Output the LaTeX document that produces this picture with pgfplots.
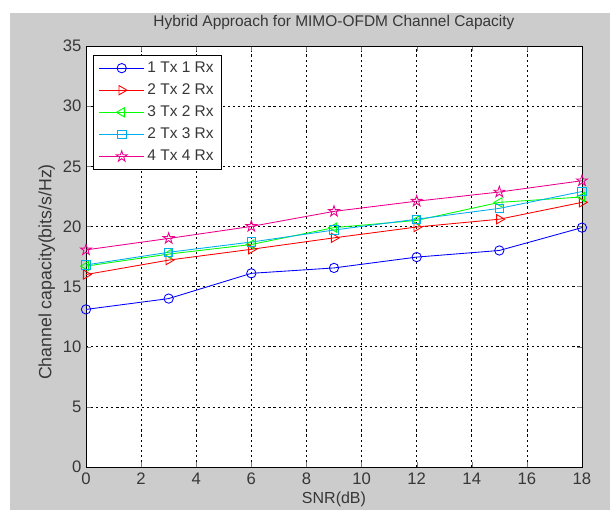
\documentclass[border=0pt]{standalone}
\usepackage{fontspec}
\setmainfont{Liberation Sans}
\usepackage{pgfplots}
\pgfplotsset{compat=1.18}
\usetikzlibrary{backgrounds}

\definecolor{figgray}{RGB}{204,204,204}
\definecolor{txt}{RGB}{55,55,55}

% MATLAB-like hollow pentagram
\pgfdeclareplotmark{pentagram}{%
  \pgfpathmoveto{\pgfpointpolar{90}{\pgfplotmarksize}}%
  \pgfpathlineto{\pgfpointpolar{126}{0.382\pgfplotmarksize}}%
  \pgfpathlineto{\pgfpointpolar{162}{\pgfplotmarksize}}%
  \pgfpathlineto{\pgfpointpolar{198}{0.382\pgfplotmarksize}}%
  \pgfpathlineto{\pgfpointpolar{234}{\pgfplotmarksize}}%
  \pgfpathlineto{\pgfpointpolar{270}{0.382\pgfplotmarksize}}%
  \pgfpathlineto{\pgfpointpolar{306}{\pgfplotmarksize}}%
  \pgfpathlineto{\pgfpointpolar{342}{0.382\pgfplotmarksize}}%
  \pgfpathlineto{\pgfpointpolar{18}{\pgfplotmarksize}}%
  \pgfpathlineto{\pgfpointpolar{54}{0.382\pgfplotmarksize}}%
  \pgfpathclose\pgfusepathqstroke}

\begin{document}
\begin{tikzpicture}
\begin{axis}[
  scale only axis,
  width=372pt, height=315.75pt,
  xmin=0, xmax=18, ymin=0, ymax=35,
  xtick={0,2,...,18}, ytick={0,5,...,35},
  tick align=inside,
  major tick length=4pt,
  axis background/.style={fill=white},
  axis line style={black, line width=0.5pt},
  grid=major,
  major grid style={black, line width=0.5pt, dash pattern=on 1.6pt off 2.2pt},
  /pgf/number format/assume math mode=true,
  tick label style={font=\fontsize{12.5}{15}\selectfont, color=txt},
  xticklabel style={yshift=-1pt},
  title={Hybrid Approach for MIMO-OFDM Channel Capacity},
  title style={font=\fontsize{11.6}{14}\selectfont, color=txt, at={(0.5,1.038)}, anchor=center},
  xlabel={SNR(dB)},
  ylabel={Channel capacity(bits/s/Hz)},
  xlabel style={font=\fontsize{12}{14}\selectfont, color=txt, at={(0.5,-0.076)}, anchor=center},
  ylabel style={font=\fontsize{13.3}{16}\selectfont, color=txt, at={(-0.079,0.463)}, anchor=center},
  legend style={at={(0.014,0.979)}, anchor=north west, draw=black, fill=white,
    font=\fontsize{11.6}{14}\selectfont, text=txt, row sep=3pt,
    inner xsep=4pt, inner ysep=3pt, line width=0.5pt},
  legend cell align=left,
  legend image code/.code={%
    \draw[mark repeat=2,mark phase=2] plot coordinates {(0pt,0pt) (17pt,0pt) (34pt,0pt)};},
  every axis plot/.append style={line width=0.65pt},
]
\addplot[blue, mark=o, mark size=3.5pt] coordinates {
  (0,13.1)(3,14.0)(6,16.1)(9,16.55)(12,17.45)(15,18.0)(18,19.9)};
\addlegendentry{1 Tx 1 Rx}
\addplot[red, mark=triangle, mark size=4pt, mark options={rotate=-90}] coordinates {
  (0,16.0)(3,17.2)(6,18.1)(9,19.05)(12,19.95)(15,20.6)(18,22.0)};
\addlegendentry{2 Tx 2 Rx}
\addplot[green, mark=triangle, mark size=4pt, mark options={rotate=90}] coordinates {
  (0,16.7)(3,17.7)(6,18.5)(9,19.9)(12,20.5)(15,22.0)(18,22.45)};
\addlegendentry{3 Tx 2 Rx}
\addplot[cyan, mark=square, mark size=3.2pt] coordinates {
  (0,16.8)(3,17.85)(6,18.7)(9,19.7)(12,20.6)(15,21.5)(18,22.9)};
\addlegendentry{2 Tx 3 Rx}
\addplot[magenta, mark=pentagram, mark size=4.3pt] coordinates {
  (0,18.05)(3,19.0)(6,20.0)(9,21.25)(12,22.1)(15,22.86)(18,23.8)};
\addlegendentry{4 Tx 4 Rx}
\coordinate (P0) at (rel axis cs:-0.1734,-0.1021);
\coordinate (P1) at (rel axis cs:1.0565,1.1093);
\coordinate (G0) at (rel axis cs:-0.1532,-0.1021);
\coordinate (G1) at (rel axis cs:1.0565,1.0784);
\end{axis}
\begin{scope}[on background layer]
  \fill[white] (P0) rectangle (P1);
  \fill[figgray] (G0) rectangle (G1);
\end{scope}
\pgfresetboundingbox
\path[use as bounding box] (P0) rectangle (P1);
\end{tikzpicture}
\end{document}
